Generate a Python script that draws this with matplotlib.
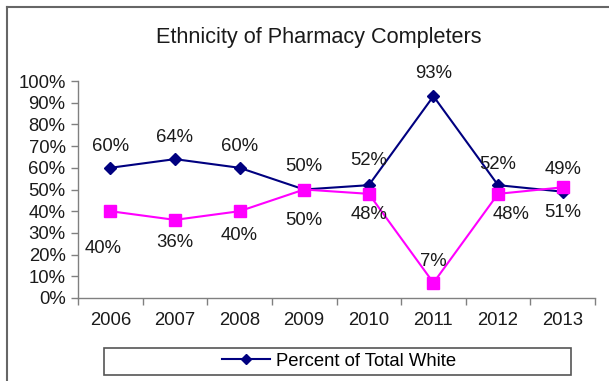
import matplotlib
matplotlib.use("Agg")
import matplotlib.pyplot as plt
from matplotlib.patches import Rectangle
from matplotlib.lines import Line2D

plt.rcParams['font.family'] = ['Liberation Sans', 'DejaVu Sans']

# data
years = ['2006', '2007', '2008', '2009', '2010', '2011', '2012', '2013']
pct_white = [60, 64, 60, 50, 52, 93, 52, 49]
pct_other = [40, 36, 40, 50, 48, 7, 48, 51]
white_labels = ['60%', '64%', '60%', '50%', '52%', '93%', '52%', '49%']
other_labels = ['40%', '36%', '40%', '50%', '48%', '7%', '48%', '51%']
ytick_labels = ['0%', '10%', '20%', '30%', '40%', '50%', '60%', '70%', '80%', '90%', '100%']

# label offsets in pixels (dx, dy), as placed in the original
white_off = [(0, 21), (0, 22), (0, 21), (0, 23), (0, 25), (0, 23), (0, 21), (0, 22)]
other_off = [(-7, -37), (0, -23), (0, -24), (0, -31), (0, -21), (0, 21), (13, -21), (0, -25)]

navy = '#000080'
pink = '#FF00FF'
grey = '#808080'
txt = '#1a1a1a'
fs = 13.3

W, H = 609, 381
fig = plt.figure(figsize=(W / 100, H / 100), dpi=100)
ax = fig.add_axes([78 / W, 1 - 298 / H, (595 - 78) / W, (298 - 81) / H])

x = list(range(len(years)))
ax.plot(x, pct_white, color=navy, lw=1.5, marker='D', ms=6, mfc=navy, mec=navy, zorder=3)
ax.plot(x, pct_other, color=pink, lw=1.5, marker='s', ms=8, mfc=pink, mec=pink, zorder=4)

for i in x:
    ax.annotate(white_labels[i], (i, pct_white[i]), xytext=white_off[i],
                textcoords='offset pixels', ha='center', va='center',
                fontsize=fs, color=txt, zorder=5)
    ax.annotate(other_labels[i], (i, pct_other[i]), xytext=other_off[i],
                textcoords='offset pixels', ha='center', va='center',
                fontsize=fs, color=txt, zorder=5)

ax.set_xlim(-0.5, len(years) - 0.5)
ax.set_ylim(0, 100)
ax.set_yticks(range(0, 101, 10))
ax.set_yticklabels(ytick_labels)
ax.set_xticks(x)
ax.set_xticklabels(years)
ax.set_xticks([i - 0.5 for i in range(len(years) + 1)], minor=True)
ax.tick_params(axis='x', which='major', length=0, pad=10, labelsize=fs, labelcolor=txt)
ax.tick_params(axis='x', which='minor', length=5, color=grey, width=1)
ax.tick_params(axis='y', length=5, color=grey, width=1, pad=4, labelsize=fs, labelcolor=txt)

for s in ['top', 'right']:
    ax.spines[s].set_visible(False)
for s in ['left', 'bottom']:
    ax.spines[s].set_color(grey)
    ax.spines[s].set_linewidth(1)

fig.text(319 / W, 1 - 37 / H, 'Ethnicity of Pharmacy Completers', ha='center', va='center',
         fontsize=15.6, color=txt)

# legend box
handle = Line2D([], [], color=navy, lw=1.5, marker='D', ms=5, mfc=navy, mec=navy)
fig.legend([handle], ['Percent of Total White'], loc='center',
           bbox_to_anchor=(339 / W, 1 - 361 / H), frameon=False, fontsize=fs,
           handlelength=2.6, handletextpad=0.3, borderpad=0)
fig.patches.append(Rectangle((104 / W, 1 - 375 / H), (571 - 104) / W, 27 / H,
                             transform=fig.transFigure, fill=False, ec='#555555', lw=1.2))

# outer chart border (right and bottom edges are cropped in the original)
fig.lines.append(Line2D([7 / W, 7 / W], [0, 1 - 7 / H], transform=fig.transFigure,
                        color='#666666', lw=1.5))
fig.lines.append(Line2D([7 / W, 1], [1 - 7 / H, 1 - 7 / H], transform=fig.transFigure,
                        color='#666666', lw=1.5))

fig.savefig('out.png', dpi=100)
